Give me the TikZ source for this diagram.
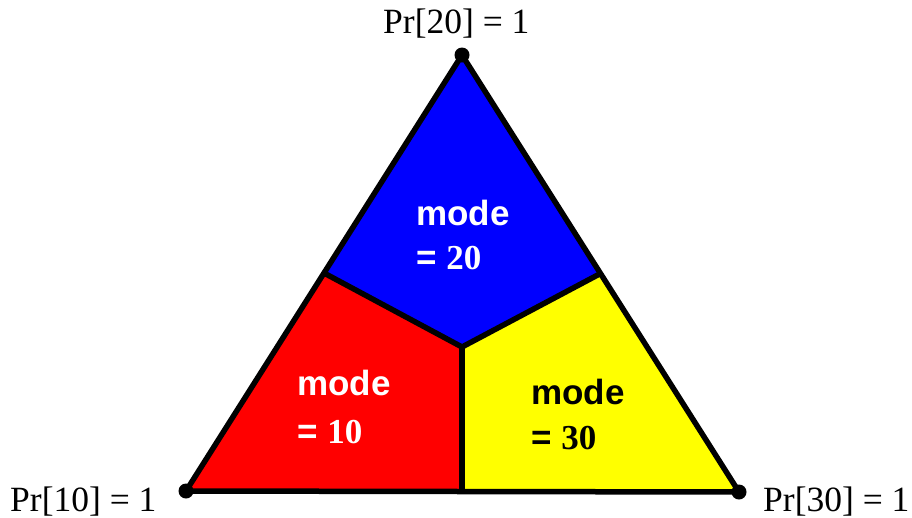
\documentclass[tikz,border=0pt]{standalone}
\usepackage{fontspec}
\usetikzlibrary{calc}
\setmainfont{Liberation Serif}
\newfontfamily\arialb{Liberation Sans}[BoldFont={Liberation Sans Bold}]
\definecolor{pyellow}{RGB}{255,255,0}
\definecolor{pred}{RGB}{255,0,0}
\definecolor{pblue}{RGB}{0,0,255}
\begin{document}
\begin{tikzpicture}[x=1pt,y=-1pt,
  edge/.style={line width=5.5pt,line join=round},
  vdot/.style={circle,fill=black,inner sep=0pt,minimum size=15pt},
  lbl/.style={anchor=base west,inner sep=0pt,font=\fontsize{35.5}{42}\selectfont},
  modetxt/.style={anchor=base west,inner sep=0pt,font=\fontsize{35}{42}\selectfont\bfseries}]
\useasboundingbox (0,0) rectangle (912,517);
\coordinate (T) at (462,55);
\coordinate (L) at (186,491);
\coordinate (R) at (739,492);
\coordinate (C) at (462,347);
\coordinate (ML) at ($(T)!0.5!(L)$);
\coordinate (MR) at ($(T)!0.5!(R)$);
\coordinate (MB) at (462,491.5);
\fill[pblue] (T) -- (MR) -- (C) -- (ML) -- cycle;
\fill[pred] (L) -- (ML) -- (C) -- (MB) -- cycle;
\fill[pyellow] (R) -- (MR) -- (C) -- (MB) -- cycle;
\draw[edge] (ML) -- (C) -- (MR);
\draw[edge] (C) -- (MB);
\draw[edge] (T) -- (L) -- (R) -- cycle;
\node[vdot] (vT) at (T) {};
\node[vdot] (vL) at (L) {};
\node[vdot] (vR) at (R) {};
\node[lbl] (lT) at (383,33) {Pr[20] = 1};
\node[lbl] (lL) at (10,511) {Pr[10] = 1};
\node[lbl] (lR) at (763,511) {Pr[30] = 1};
\node[modetxt,text=white] (m20a) at (416,225) {\arialb mode};
\node[modetxt,text=white] (m20b) at (416,269) {\arialb= \rmfamily 20};
\node[modetxt,text=white] (m10a) at (297,395) {\arialb mode};
\node[modetxt,text=white] (m10b) at (297,443) {\arialb= \rmfamily 10};
\node[modetxt,text=black] (m30a) at (531,404) {\arialb mode};
\node[modetxt,text=black] (m30b) at (531,449) {\arialb= \rmfamily 30};
\end{tikzpicture}
\end{document}
